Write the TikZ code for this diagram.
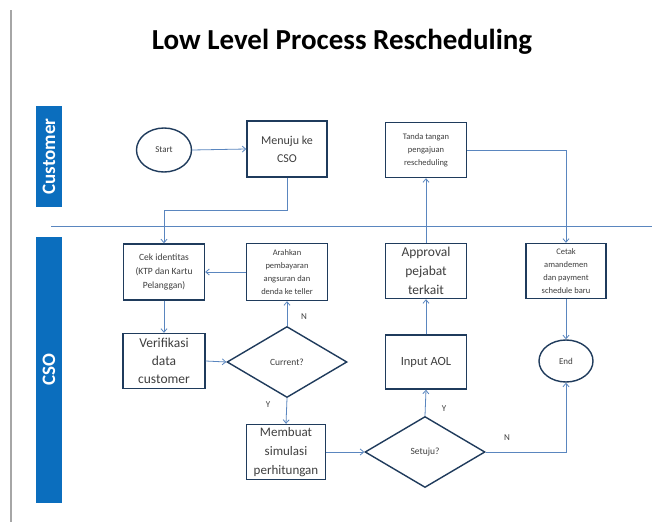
\documentclass[tikz,border=0pt]{standalone}
\usepackage{fontspec}
\setmainfont{Carlito}
\usetikzlibrary{shapes.geometric,arrows.meta}
\definecolor{boxline}{HTML}{1F3B5C}
\definecolor{connc}{HTML}{5A86BF}
\definecolor{lanec}{HTML}{0B6EBE}
\definecolor{txtc}{HTML}{3F3F3F}
\newcommand{\fs}[2]{\fontsize{#1}{#2}\selectfont}
\tikzset{
  procbox/.style={draw=boxline, line width=1.4pt, fill=white, rectangle, inner sep=1pt, align=center, text=txtc, minimum width=81pt, minimum height=55pt},
  termnode/.style={draw=boxline, line width=1.4pt, fill=white, ellipse, inner sep=0pt, align=center, text=txtc, font=\fs{9}{11}},
  decnode/.style={draw=boxline, line width=1.4pt, fill=white, diamond, aspect=1.7, inner sep=0pt, align=center, text=txtc, font=\fs{9.5}{11}, minimum width=120pt, minimum height=71pt},
  conn/.style={draw=connc, line width=0.8pt, -{Straight Barb[length=3.5pt,width=6pt]}},
  plainline/.style={draw=connc, line width=0.8pt},
  lanebox/.style={fill=lanec, draw=none, rectangle, text=white, font=\fs{19}{21}\bfseries, rotate=90, inner sep=0pt},
  lbl/.style={text=txtc, font=\fs{9}{10}, inner sep=0pt}
}
\begin{document}
\begin{tikzpicture}[x=1pt,y=-1pt]
\useasboundingbox (0,0) rectangle (661,522);
\fill[white] (0,0) rectangle (661,522);
% left page rule
\draw[gray!70, line width=1.5pt] (11,10) -- (11,522);
% title
\node[font=\fs{29}{34}\bfseries, text=black] (title) at (342,42) {Low Level Process Rescheduling};
% lanes
\node[lanebox, minimum width=101pt, minimum height=26pt] (custlane) at (49,156.5) {Customer};
\node[lanebox, minimum width=266pt, minimum height=26pt] (csolane) at (49,370) {CSO};
\coordinate (sepL) at (51,226);
\coordinate (sepR) at (652,226);
\draw[plainline, line width=1pt] (sepL) -- (sepR);
% nodes
\node[termnode, minimum width=55pt, minimum height=44pt] (start) at (164,150) {Start};
\node[procbox, minimum width=80pt, minimum height=56pt, font=\fs{12}{18}] (menuju) at (287,149) {Menuju ke\\CSO};
\node[procbox, font=\fs{8.5}{13}] (tanda) at (426,150) {Tanda tangan\\pengajuan\\rescheduling};
\node[procbox, minimum height=56pt, font=\fs{9.5}{14}] (cek) at (164,272) {Cek identitas\\(KTP dan Kartu\\Pelanggan)};
\node[procbox, minimum height=57pt, font=\fs{8.5}{13}] (arahkan) at (287,272) {Arahkan\\pembayaran\\angsuran dan\\denda ke teller};
\node[procbox, font=\fs{13.5}{19}] (approval) at (426,271) {Approval\\pejabat\\terkait};
\node[procbox, minimum width=80pt, font=\fs{8.5}{13}] (cetak) at (566,271) {Cetak\\amandemen\\dan payment\\schedule baru};
\node[procbox, minimum width=82pt, font=\fs{13.5}{18}] (verif) at (164,361) {Verifikasi\\data\\customer};
\node[decnode] (current) at (287,362) {Current?};
\node[procbox, minimum height=54pt, font=\fs{12.5}{15}] (input) at (426,362) {Input AOL};
\node[termnode, minimum width=54pt, minimum height=42pt] (end) at (566,361) {End};
\node[procbox, minimum width=79pt, font=\fs{13}{19}] (membuat) at (286,452) {Membuat\\simulasi\\perhitungan};
\node[decnode] (setuju) at (425,452) {Setuju?};
% connectors
\coordinate (j1) at (164,210);
\draw[conn] (start.east) -- (menuju.west);
\draw[conn] (menuju.south) |- (j1) -- (cek.north);
\draw[conn] (tanda.east) -| (cetak.north);
\draw[conn] (approval.north) -- (tanda.south);
\draw[conn] (arahkan.west) -- (cek.east);
\draw[conn] (cek.south) -- (verif.north);
\draw[conn] (verif.east) -- (current.west);
\draw[conn] (current.north) -- (arahkan.south);
\draw[conn] (current.south) -- (membuat.north);
\draw[conn] (membuat.east) -- (setuju.west);
\draw[conn] (setuju.north) -- (input.south);
\draw[conn] (setuju.east) -| (end.south);
\draw[conn] (input.north) -- (approval.south);
\draw[conn] (cetak.south) -- (end.north);
% labels
\node[lbl] (lN1) at (304,317) {N};
\node[lbl] (lY1) at (268,405) {Y};
\node[lbl] (lY2) at (444,409) {Y};
\node[lbl] (lN2) at (507,438) {N};
\end{tikzpicture}
\end{document}
